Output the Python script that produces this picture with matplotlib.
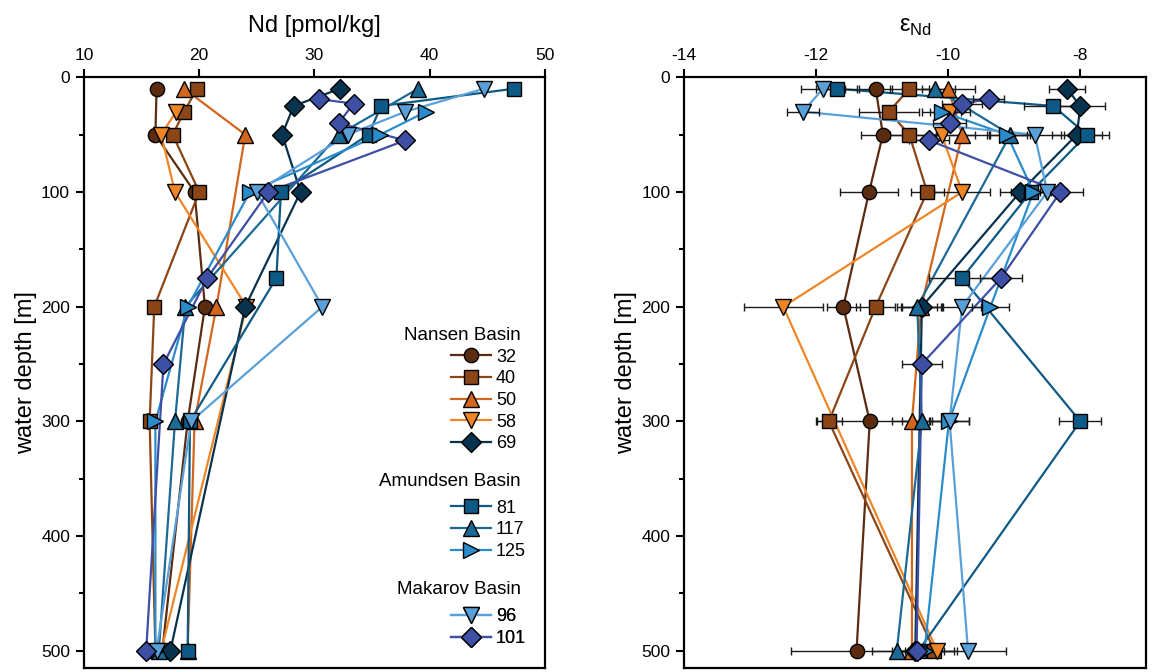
import numpy as np
import matplotlib.pyplot as plt
from matplotlib.ticker import MultipleLocator
from matplotlib.lines import Line2D

plt.rcParams['font.family'] = ['Liberation Sans', 'DejaVu Sans']
plt.rcParams['mathtext.fontset'] = 'custom'
plt.rcParams['mathtext.rm'] = 'Liberation Sans'

# station data: depth [m], Nd [pmol/kg], eps_Nd, 2sd error on eps_Nd
depth_32 = [10, 50, 100, 200, 300, 500]
nd_32 = [16.3, 16.2, 19.6, 20.5, 19.0, 16.8]
eps_32 = [-11.10, -10.99, -11.20, -11.59, -11.19, -11.39]
err_32 = [0.25, 0.33, 0.44, 0.25, 0.8, 1.0]

depth_40 = [10, 30, 50, 100, 200, 300, 500]
nd_40 = [19.8, 18.7, 17.7, 20.0, 16.1, 15.7, 16.2]
eps_40 = [-10.59, -10.90, -10.59, -10.32, -11.10, -11.81, -10.21]
err_40 = [0.3, 0.45, 0.3, 0.25, 0.3, 0.2, 0.3]

depth_50 = [10, 50, 200, 300, 500]
nd_50 = [18.7, 24.0, 21.5, 19.6, 19.0]
eps_50 = [-10.00, -9.79, -10.41, -10.55, -10.55]
err_50 = [0.4, 0.4, 0.3, 0.3, 0.3]

depth_58 = [30, 50, 100, 200, 500]
nd_58 = [18.0, 16.7, 17.9, 24.1, 16.7]
eps_58 = [-9.97, -10.10, -9.79, -12.50, -10.17]
err_58 = [0.3, 0.5, 0.42, 0.6, 0.3]

depth_69 = [10, 25, 50, 100, 200, 500]
nd_69 = [32.2, 28.2, 27.2, 28.8, 24.0, 17.5]
eps_69 = [-8.20, -8.00, -8.05, -8.91, -10.40, -10.50]
err_69 = [0.27, 0.38, 0.38, 0.3, 0.3, 0.3]

depth_81 = [10, 25, 50, 100, 175, 300, 500]
nd_81 = [47.3, 35.8, 34.7, 27.1, 26.7, 19.2, 19.0]
eps_81 = [-11.69, -8.41, -7.90, -8.75, -9.79, -8.00, -10.45]
err_81 = [0.31, 0.44, 0.34, 0.3, 0.5, 0.32, 0.3]

depth_117 = [10, 50, 200, 300, 500]
nd_117 = [39.0, 32.1, 18.8, 17.9, 16.5]
eps_117 = [-10.20, -9.06, -10.47, -10.40, -10.78]
err_117 = [0.3, 0.3, 0.3, 0.3, 0.37]

depth_125 = [30, 50, 100, 200, 300, 500]
nd_125 = [39.7, 35.7, 24.4, 19.0, 16.2, 16.2]
eps_125 = [-10.10, -9.11, -8.71, -9.36, -9.99, -10.36]
err_125 = [0.3, 0.3, 0.3, 0.28, 0.3, 0.3]

depth_96 = [10, 30, 50, 100, 200, 300, 500]
nd_96 = [44.7, 37.9, 32.9, 25.0, 30.7, 19.3, 16.3]
eps_96 = [-11.90, -12.20, -8.69, -8.50, -9.79, -9.98, -9.70]
err_96 = [0.33, 0.24, 0.4, 0.3, 0.29, 0.3, 0.58]

depth_101 = [19, 23, 40, 55, 100, 175, 250, 500]
nd_101 = [30.4, 33.4, 32.1, 37.9, 26.0, 20.7, 16.9, 15.4]
eps_101 = [-9.39, -9.79, -9.98, -10.29, -8.30, -9.20, -10.40, -10.48]
err_101 = [0.23, 0.3, 0.25, 0.3, 0.34, 0.32, 0.3, 0.3]

stations = [
    ('32', depth_32, nd_32, eps_32, err_32, 'o', '#5b2c10', 10.3),
    ('40', depth_40, nd_40, eps_40, err_40, 's', '#8b4516', 9.8),
    ('50', depth_50, nd_50, eps_50, err_50, '^', '#d2661c', 11.5),
    ('58', depth_58, nd_58, eps_58, err_58, 'v', '#ef8626', 11.5),
    ('69', depth_69, nd_69, eps_69, err_69, 'D', '#08334f', 9.8),
    ('81', depth_81, nd_81, eps_81, err_81, 's', '#0e5a86', 9.8),
    ('117', depth_117, nd_117, eps_117, err_117, '^', '#1b6a96', 11.5),
    ('125', depth_125, nd_125, eps_125, err_125, '>', '#2b8ccc', 11.5),
    ('96', depth_96, nd_96, eps_96, err_96, 'v', '#5aa0d8', 11.5),
    ('101', depth_101, nd_101, eps_101, err_101, 'D', '#3e4fa6', 9.8),
]
groups = [('Nansen Basin', ['32', '40', '50', '58', '69']),
          ('Amundsen Basin', ['81', '117', '125']),
          ('Makarov Basin', ['96', '101'])]

fig = plt.figure(figsize=(11.52, 6.72), dpi=100)
ax1 = fig.add_axes([0.0729, 0.006, 0.400, 0.879])
ax2 = fig.add_axes([0.594, 0.006, 0.401, 0.879])

for i, (name, d, nd, eps, err, m, c, ms) in enumerate(stations):
    ax1.plot(nd, d, '-', color=c, lw=1.6, zorder=2)
    ax1.plot(nd, d, ls='none', marker=m, ms=ms, mfc=c, mec='k', mew=1.0, zorder=3 + i * 0.01)
    ax2.plot(eps, d, '-', color=c, lw=1.6, zorder=2)
    ax2.errorbar(eps, d, xerr=err, fmt='none', ecolor='#1a1a1a', elinewidth=1.0,
                 capsize=3, capthick=1.0, zorder=2.5)
    ax2.plot(eps, d, ls='none', marker=m, ms=ms, mfc=c, mec='k', mew=1.0, zorder=3 + i * 0.01)

for ax in (ax1, ax2):
    ax.set_ylim(515, 0)
    ax.yaxis.set_major_locator(MultipleLocator(100))
    ax.yaxis.set_minor_locator(MultipleLocator(50))
    ax.xaxis.tick_top()
    ax.xaxis.set_label_position('top')
    ax.tick_params(which='major', length=6, width=1.5, labelsize=12.5, pad=4)
    ax.tick_params(which='minor', length=3.5, width=1.5)
    ax.tick_params(axis='x', which='both', top=True, bottom=False)
    for s in ax.spines.values():
        s.set_linewidth(1.6)
    ax.set_ylabel('water depth [m]', fontsize=17, labelpad=3)

ax1.set_xlim(10, 50)
ax1.xaxis.set_major_locator(MultipleLocator(10))
ax1.set_xlabel('Nd [pmol/kg]', fontsize=17, labelpad=12)
ax2.set_xlim(-14, -7)
ax2.set_xticks([-14, -12, -10, -8])
ax2.set_xticklabels(['-14', '-12', '-10', '-8'])
ax2.set_xlabel('\u03b5$_{\\rm Nd}$', fontsize=17, labelpad=12)

lookup = {s[0]: s for s in stations}
title_y = [0.5635, 0.3164, 0.132]
legend_top = [0.5406, 0.2851, 0.1007]
for (title, names), ty, top in zip(groups, title_y, legend_top):
    ax1.text(0.948, ty, title, transform=ax1.transAxes, ha='right', va='center',
             fontsize=13.5)
    handles = []
    for n in names:
        _, _, _, _, _, m, c, ms = lookup[n]
        handles.append(Line2D([], [], color=c, lw=1.6, marker=m, ms=ms, mfc=c, mec='k', mew=1.0))
    leg = ax1.legend(handles, names, loc='upper left',
                     bbox_to_anchor=(0.797, top), frameon=False, fontsize=13,
                     handlelength=2.2, handletextpad=0.28,
                     labelspacing=0.26, borderpad=0, borderaxespad=0)
    ax1.add_artist(leg)

fig.savefig('out.png', dpi=100)
